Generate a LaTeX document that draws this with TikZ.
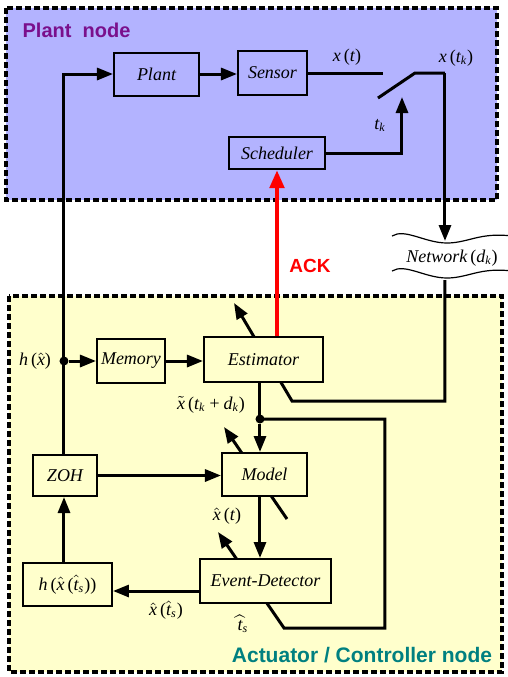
\documentclass[tikz,border=0pt]{standalone}
\usepackage{fontspec}
\setmainfont{Liberation Serif}
\setsansfont{Liberation Sans}
\usetikzlibrary{arrows.meta}

\definecolor{plantbg}{RGB}{179,179,255}
\definecolor{ctrlbg}{RGB}{255,255,204}
\definecolor{plantfg}{RGB}{122,16,140}
\definecolor{ctrlfg}{RGB}{0,128,128}

% upright brackets and accented letters inside the italic signal names
\newcommand{\lb}{\textup{(}}
\newcommand{\rb}{\textup{)}}
\newcommand{\xhat}{$\hat{\textit{x}}$}
\newcommand{\xtil}{$\tilde{\textit{x}}$}
\newcommand{\that}{$\hat{\textit{t}}$}
\newcommand{\twide}{$\widehat{\textit{t}}$}

\begin{document}
\begin{tikzpicture}[x=0.5pt, y=-0.5pt,
    block/.style ={draw, line width=1pt, inner sep=0pt,
                   font=\fontsize{9}{10}\selectfont\itshape},
    pbox/.style  ={block, fill=plantbg},
    cbox/.style  ={block, fill=ctrlbg},
    signal/.style={inner sep=1pt, font=\fontsize{9}{10}\selectfont\itshape},
    wire/.style  ={line width=1.5pt},
    conn/.style  ={wire, -{Triangle[length=8pt,width=6pt]}},
    ack/.style   ={line width=2.4pt, red, -{Triangle[length=9pt,width=7pt]}},
    region/.style={draw, line width=1.6pt, dash pattern=on 3pt off 1.5pt},
    title/.style ={inner sep=0pt, font=\fontsize{10}{12}\selectfont\sffamily\bfseries},
    dot/.style   ={circle, fill, inner sep=0pt, minimum size=4.5pt}]
  \useasboundingbox (0,0) rectangle (508,677);

  % the two nodes of the loop
  \draw[region, fill=plantbg] (6,8) rectangle (497,200);
  \draw[region, fill=ctrlbg] (9,296) rectangle (502,672);
  \node[title, text=plantfg] (plantttl) at (76.5,30) {Plant\ \ node};
  \node[title, text=ctrlfg, font=\fontsize{10.5}{12}\selectfont\sffamily\bfseries]
    (ctrlttl) at (362,655) {Actuator / Controller node};

  \coordinate (hx)     at (64,361);
  \coordinate (swIn)   at (383,73);
  \coordinate (swLo)   at (378,98);
  \coordinate (swHi)   at (415,73);
  \coordinate (swOut)  at (445,73);
  \coordinate (tk)     at (402,97);
  \coordinate (netTop) at (445,241);
  \coordinate (netBot) at (445,280);
  \coordinate (estIn)  at (292,401);
  \coordinate (tilde)  at (260,419);
  \coordinate (detIn)  at (284,628);
  \coordinate (xs)     at (160,591);

  % network channel
  \draw[line width=0.6pt] (392,236) .. controls (405,228) and (425,243) .. (447,243)
        .. controls (468,243) and (480,232) .. (512,236);
  \draw[line width=0.6pt] (392,271) .. controls (405,263) and (425,278) .. (447,278)
        .. controls (468,278) and (480,267) .. (512,271);

  % adjusting arrows, drawn under the boxes
  \draw[conn] (netBot) |- (estIn) -- (234,303);
  \draw[conn] (287,519) -- (224,427);
  \draw[conn] (tilde) -- (385,419) |- (detIn) -- (218,532);

  \node[pbox, minimum width=42.5pt, minimum height=21.5pt] (plant)  at (156.5,74)  {Plant};
  \node[pbox, minimum width=34.5pt, minimum height=22pt]   (sensor) at (272.5,73)  {Sensor};
  \node[pbox, minimum width=48pt,   minimum height=16pt]   (sched)  at (277,153)   {Scheduler};
  \node[cbox, minimum width=34pt,   minimum height=22pt]   (mem)    at (131,361)   {Memory};
  \node[cbox, minimum width=59.5pt, minimum height=22.5pt] (est)    at (263.5,359.5) {Estimator};
  \node[cbox, minimum width=42.5pt, minimum height=21.5pt] (model)  at (264.5,474.5) {Model};
  \node[cbox, minimum width=32pt,   minimum height=20.5pt] (zoh)    at (65,475.5)  {ZOH};
  \node[cbox, minimum width=44.5pt, minimum height=21.5pt] (hbox)   at (67.5,584.5)
    {h\,\lb\xhat\,\lb\that\textsubscript{s}\rb\rb};
  \node[cbox, minimum width=65.5pt, minimum height=22pt]   (det)    at (265.5,581) {Event-Detector};

  \draw[conn] (zoh.north -| hx) |- (plant.west);
  \draw[conn] (plant.east) -- (sensor.west |- plant.east);
  \draw[wire] (sensor.east) -- (swIn);
  \draw[wire] (swLo) -- (swHi) -- (swOut);
  \draw[conn] (swOut) -- (netTop);
  \draw[conn] (sched.east) -| (tk);
  \draw[ack] (sched.south |- est.north) -- (sched.south);

  \node[dot] (hdot) at (hx) {};
  \draw[conn] (hdot) -- (mem.west);
  \draw[conn] (mem.east) -- (est.west |- mem.east);
  \draw[wire] (est.south -| tilde) -- (tilde);
  \node[dot] (tdot) at (tilde) {};
  \draw[conn] (tdot) -- (model.north -| tilde);
  \draw[conn] (model.south -| tilde) -- (det.north -| tilde);
  \draw[conn] (zoh.east) -- (model.west |- zoh.east);
  \draw[conn] (det.west |- xs) -- (hbox.east |- xs);
  \draw[conn] (hbox.north -| hx) -- (zoh.south -| hx);

  % signal names
  \node[signal] (xt)   at (347,57)  {x\,\lb t\rb};
  \node[signal] (xtk)  at (456,58)  {x\,\lb t\textsubscript{k}\rb};
  \node[signal] (tkl)  at (380,125) {t\textsubscript{k}};
  \node[signal] (net)  at (452,258) {Network\,\lb d\textsubscript{k}\rb};
  \node[inner sep=0pt, text=red, font=\fontsize{9.5}{11}\selectfont\sffamily\bfseries]
    (ackl) at (310,266) {ACK};
  \node[signal] (hxl)  at (35,361)  {h\,\lb\xhat\rb};
  \node[signal] (xtl)  at (211,405) {\xtil\,\lb t\textsubscript{k}\,+\,d\textsubscript{k}\rb};
  \node[signal] (xhl)  at (227,516) {\xhat\,\lb t\rb};
  \node[signal] (xsl)  at (166,610) {\xhat\,\lb\that\textsubscript{s}\rb};
  \node[signal, inner sep=0pt] (tsl) at (243,624) {\twide\textsubscript{s}};
\end{tikzpicture}
\end{document}
